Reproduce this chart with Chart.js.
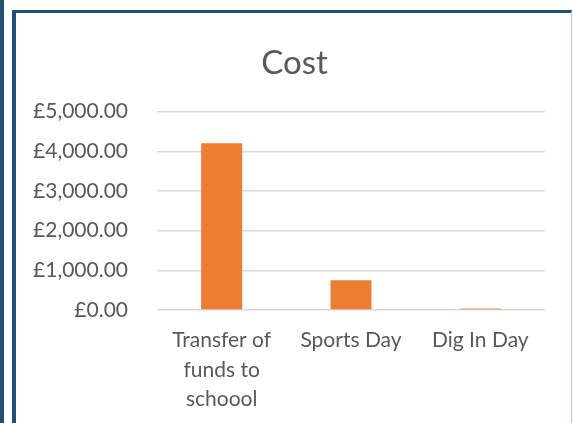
<!DOCTYPE html>
<html lang="en">
<head>
    <meta charset="UTF-8">
    <title>Cost</title>
    <script src="https://cdn.jsdelivr.net/npm/chart.js"></script>
    <style>
        body {
            margin: 0;
            padding: 0;
            background-color: white;
            overflow: hidden;
        }
        .wrap {
            position: relative;
            width: 573px;
            height: 423px;
        }
        .leftbar {
            position: absolute;
            left: 0; top: 0;
            width: 4px; height: 423px;
            background-color: #1F4E79;
        }
        .frame {
            position: absolute;
            left: 12px; top: 10px;
            width: 555px; height: 420px;
            border-left: 4px solid #1F4E79;
            border-top: 3px solid #1F4E79;
            border-right: 1px solid #B4C7DC;
        }
        canvas {
            position: absolute;
            left: 0; top: 0;
        }
    </style>
</head>
<body>
    <div class="wrap">
        <div class="leftbar"></div>
        <div class="frame"></div>
        <canvas id="costChart" width="573" height="423"></canvas>
    </div>

    <script>
        // data
        const categories = [["Transfer of", "funds to", "schoool"], "Sports Day", "Dig In Day"];
        const costs = [4200, 750, 40];
        const yTicks = [0, 1000, 2000, 3000, 4000, 5000];

        const fontName = "Lato, 'Open Sans', sans-serif";

        const ctx = document.getElementById('costChart').getContext('2d');
        new Chart(ctx, {
            type: 'bar',
            data: {
                labels: categories,
                datasets: [{
                    label: 'Cost',
                    data: costs,
                    backgroundColor: '#ED7D31',
                    categoryPercentage: 1,
                    barPercentage: 0.317
                }]
            },
            options: {
                responsive: false,
                animation: false,
                layout: {
                    padding: { left: 16, right: 0, top: 13, bottom: 0 }
                },
                plugins: {
                    legend: { display: false },
                    tooltip: { enabled: false },
                    title: {
                        display: true,
                        text: 'Cost',
                        color: '#595959',
                        font: { family: fontName, size: 33, weight: 'normal' },
                        padding: { top: 31, bottom: 28 }
                    }
                },
                scales: {
                    x: {
                        grid: { display: false },
                        border: { display: false },
                        ticks: {
                            color: '#595959',
                            font: { family: fontName, size: 21, lineHeight: 1.4 },
                            padding: 8,
                            maxRotation: 0
                        },
                        afterFit: function (scale) { scale.height = 113; }
                    },
                    y: {
                        min: 0,
                        max: 5000,
                        afterBuildTicks: function (scale) {
                            scale.ticks = yTicks.map(v => ({ value: v }));
                        },
                        grid: {
                            color: '#D9D9D9',
                            lineWidth: 1.5,
                            drawTicks: false
                        },
                        border: { display: false },
                        ticks: {
                            color: '#595959',
                            font: { family: fontName, size: 21 },
                            padding: 29,
                            callback: function (value) {
                                return '£' + Number(value).toLocaleString('en-GB', {
                                    minimumFractionDigits: 2,
                                    maximumFractionDigits: 2
                                });
                            }
                        },
                        afterFit: function (scale) { scale.width = 141; }
                    },
                    // empty right-hand axis that only keeps space free
                    yRight: {
                        position: 'right',
                        grid: { display: false },
                        border: { display: false },
                        ticks: { display: false },
                        afterFit: function (scale) { scale.width = 28; }
                    }
                }
            }
        });
    </script>
</body>
</html>
